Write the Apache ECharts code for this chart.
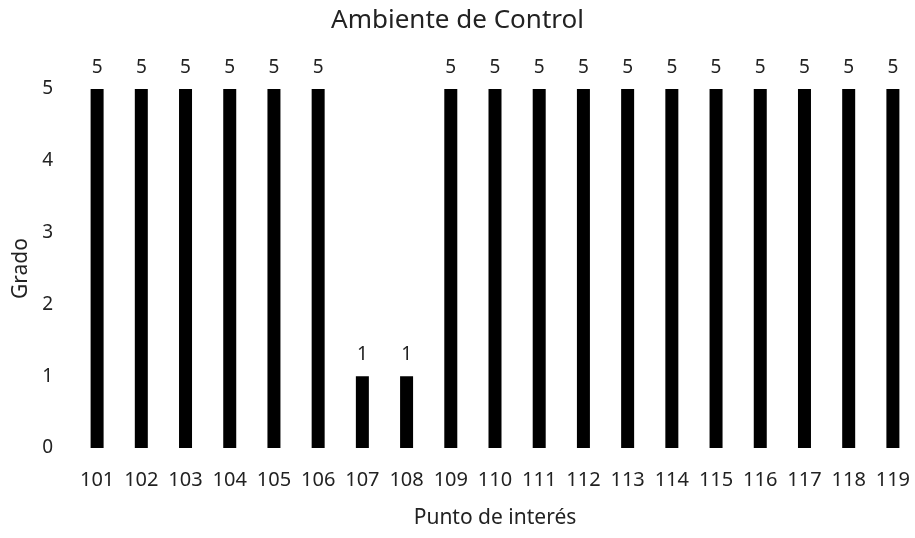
<!DOCTYPE html>
<html>
<head>
<meta charset="utf-8">
<script src="https://cdn.jsdelivr.net/npm/echarts@6/dist/echarts.min.js"></script>
<style>
  html, body { margin: 0; padding: 0; background: #fff; }
  #chart { width: 915px; height: 538px; }
</style>
</head>
<body>
<div id="chart"></div>
<script>
const categories = ['101', '102', '103', '104', '105', '106', '107', '108', '109', '110',
  '111', '112', '113', '114', '115', '116', '117', '118', '119']
const grado = [5, 5, 5, 5, 5, 5, 1, 1, 5, 5, 5, 5, 5, 5, 5, 5, 5, 5, 5]
const yTicks = [0, 1, 2, 3, 4, 5]

const chart = echarts.init(document.getElementById('chart'))

const font = 'Noto Sans'

const option = {
  animation: false,
  title: {
    text: 'Ambiente de Control',
    left: 'center',
    top: 3,
    textStyle: { fontFamily: font, fontSize: 26, fontWeight: 'normal', color: '#222' }
  },
  grid: { left: 75, right: 0, top: 89, bottom: 90 },
  xAxis: {
    type: 'category',
    data: categories,
    name: 'Punto de interés',
    nameLocation: 'middle',
    nameGap: 60,
    nameTextStyle: { fontFamily: font, fontSize: 21, color: '#222' },
    axisLine: { show: false },
    axisTick: { show: false },
    axisLabel: { fontFamily: font, fontSize: 20, color: '#222', margin: 22, interval: 0 }
  },
  yAxis: {
    type: 'value',
    min: yTicks[0],
    max: yTicks[yTicks.length - 1],
    interval: 1,
    name: 'Grado',
    nameLocation: 'middle',
    nameGap: 41,
    nameTextStyle: { fontFamily: font, fontSize: 21, color: '#222' },
    axisLine: { show: false },
    axisTick: { show: false },
    splitLine: { show: false },
    axisLabel: { fontFamily: font, fontSize: 19, color: '#222', margin: 22 }
  },
  series: [
    {
      name: 'Grado',
      type: 'bar',
      data: grado,
      barWidth: 13,
      itemStyle: { color: '#000' },
      label: {
        show: true,
        position: 'top',
        distance: 12,
        fontFamily: font,
        fontSize: 19,
        color: '#222'
      }
    }
  ]
}

chart.setOption(option)
</script>
</body>
</html>
